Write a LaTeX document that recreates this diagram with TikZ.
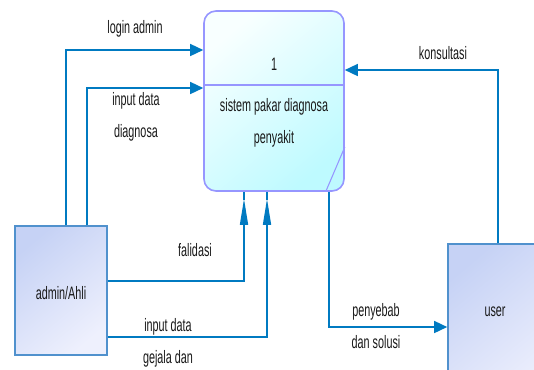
\documentclass[tikz,border=0pt]{standalone}
\usepackage{fontspec}
\usepackage{graphicx}
\setmainfont{Liberation Sans}
\usetikzlibrary{arrows.meta,calc}
% narrow lettering used for every label
\newcommand\nar[1]{\scalebox{0.6}[1]{#1}}
\definecolor{flowblue}{RGB}{0,122,193}
\definecolor{procedge}{RGB}{150,150,255}
\definecolor{proclight}{RGB}{248,255,255}
\definecolor{procdark}{RGB}{190,250,255}
\definecolor{entedge}{RGB}{80,145,205}
\definecolor{entdark}{RGB}{198,210,245}
\definecolor{entlight}{RGB}{238,240,253}
\definecolor{txt}{RGB}{25,25,25}
\tikzset{
  lbl/.style={inner sep=0pt, align=center, text=txt,
    font=\fontsize{13.5}{24}\selectfont},
  flow/.style={draw=flowblue, line width=1.1pt},
  hhead/.style={-{Triangle[length=9.75pt,width=9pt]}},
  vhead/.style={-{Triangle[length=19.5pt,width=6pt]}, shorten >=5.25pt},
  procbox/.style={draw=procedge, line width=1.2pt, rounded corners=9pt,
    left color=proclight, right color=procdark, shading angle=40,
    minimum width=105pt, minimum height=135pt, inner sep=0pt},
  entity/.style={draw=entedge, line width=1.2pt,
    left color=entdark, right color=entlight, shading angle=40,
    inner sep=0pt},
}
\begin{document}
\begin{tikzpicture}[x=0.75pt, y=-0.75pt]
\clip (0,0) rectangle (534,369);
\fill[white] (0,0) rectangle (534,369);

% process 1
\node[procbox] (proc) at (274,101) {};
\draw[procedge, line width=1.5pt] (proc.west |- 0,85) -- (proc.east |- 0,85);
\draw[procedge, line width=0.8pt] (proc.east |- 0,147) -- (326,191);
\node[lbl] (pnum) at (274,64) {\nar{1}};
\node[lbl] (pname) at (274,123) {\nar{sistem pakar diagnosa}\\\nar{penyakit}};

% external entities
\node[entity, minimum width=69pt, minimum height=96.75pt] (admin) at (61,290.5) {};
\node[lbl] (admintxt) at (61,293) {\nar{admin/Ahli}};
\node[entity, minimum width=84pt, minimum height=117pt] (user) at (504,322) {};
\node[lbl] (usertxt) at (495,312) {\nar{user}};

% flows from admin/Ahli
\draw[flow, hhead] (admin.north -| 66,0) |- (proc.west |- 0,50);
\draw[flow, hhead] (admin.north -| 87,0) |- (proc.west |- 0,88);
\draw[flow] (proc.south -| 244,0) -- ($(proc.south -| 244,0)+(0,8)$);
\draw[flow, vhead] (admin.east |- 0,281) -| (proc.south -| 244,0);
\draw[flow] (proc.south -| 267,0) -- ($(proc.south -| 267,0)+(0,8)$);
\draw[flow, vhead] (admin.east |- 0,337) -| (proc.south -| 267,0);

% flows with user
\draw[flow, hhead] (proc.south -| 329,0) |- (user.west |- 0,327);
\draw[flow, hhead] (user.north -| 498,0) |- (proc.east |- 0,70);

% flow labels
\node[lbl] (l1) at (135,29) {\nar{login admin}};
\node[lbl] (l2) at (136,117) {\nar{input data}\\\nar{diagnosa}};
\node[lbl] (l3) at (195,250) {\nar{falidasi}};
\node[lbl] (l4) at (168,343) {\nar{input data}\\\nar{gejala dan}};
\node[lbl] (l5) at (376,326) {\nar{penyebab}\\\nar{dan solusi}};
\node[lbl] (l6) at (443,53) {\nar{konsultasi}};
\end{tikzpicture}
\end{document}
